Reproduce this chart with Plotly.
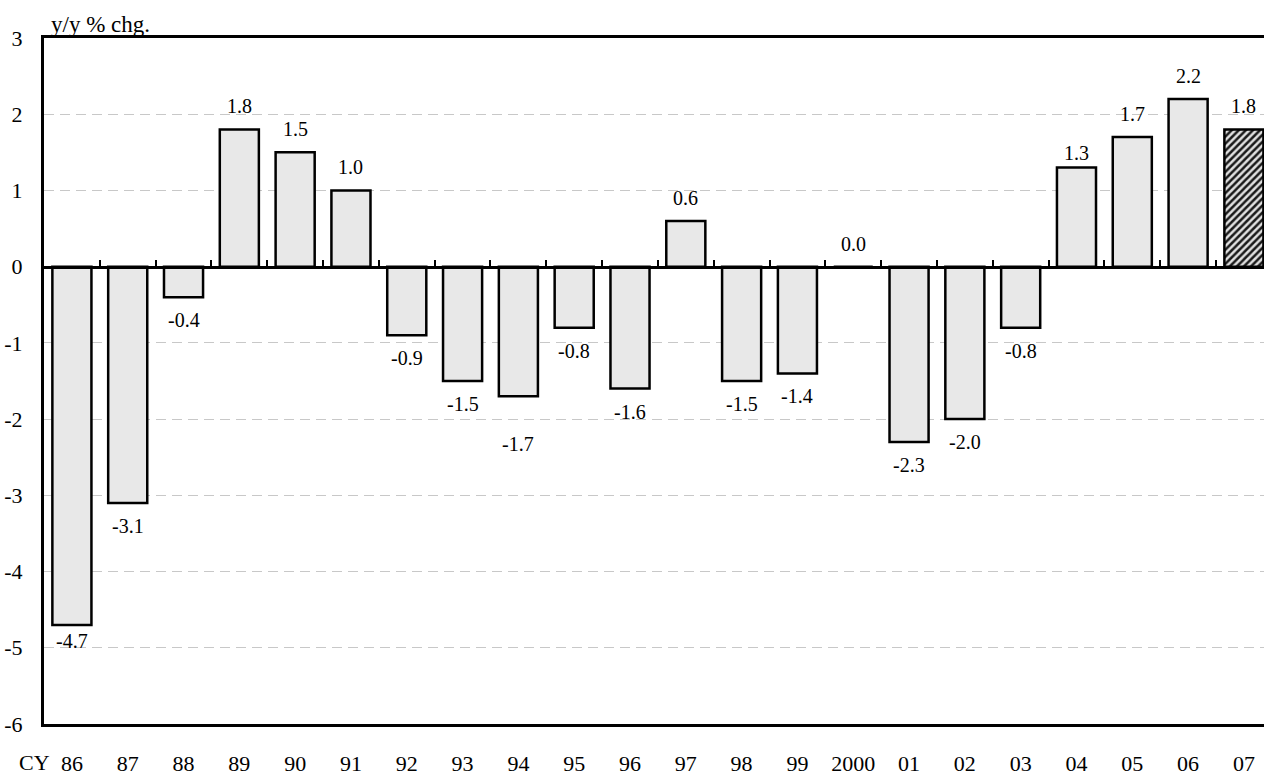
import plotly.graph_objects as go

# ---- data ----
years = ["86", "87", "88", "89", "90", "91", "92", "93", "94", "95", "96",
         "97", "98", "99", "2000", "01", "02", "03", "04", "05", "06", "07"]
values = [-4.7, -3.1, -0.4, 1.8, 1.5, 1.0, -0.9, -1.5, -1.7, -0.8, -1.6,
          0.6, -1.5, -1.4, 0.0, -2.3, -2.0, -0.8, 1.3, 1.7, 2.2, 1.8]
forecast = [False] * 21 + [True]
y_ticks = [-6, -5, -4, -3, -2, -1, 0, 1, 2, 3]
y_tick_text = ["-6", "-5", "-4", "-3", "-2", "-1", "0", "1", "2", "3"]
y_title = "y/y % chg."
x_prefix = "CY"

# ---- styling ----
FONT = "Liberation Serif"
label_offset = 23          # px between bar end and label centre
label_nudge = {"86": 7, "94": -25, "04": -8}   # px tweaks (positive = up)

xs = list(range(len(years)))

fig = go.Figure()
fig.add_trace(go.Bar(
    x=xs, y=values, width=0.7,
    marker=dict(
        color="#e8e8e8",
        line=dict(color="black", width=2.5),
        pattern=dict(shape=["/" if f else "" for f in forecast],
                     fgcolor="#1a1a1a", bgcolor="#e0e0e0",
                     size=5, solidity=0.5, fillmode="replace"),
    ),
    showlegend=False, hoverinfo="skip",
))
# invisible helper trace for the tick axis on the zero line
fig.add_trace(go.Scatter(x=xs, y=values, xaxis="x2", mode="markers",
                         marker=dict(opacity=0), showlegend=False,
                         hoverinfo="skip"))

annotations = []
for yr, i, v in zip(years, xs, values):
    shift = label_offset if v >= 0 else -label_offset
    shift += label_nudge.get(yr, 0)
    annotations.append(dict(
        x=i, y=v, xref="x", yref="y", text=f"{v:.1f}", showarrow=False,
        yshift=shift, yanchor="middle", xanchor="center",
        font=dict(family=FONT, size=20, color="black")))

annotations.append(dict(
    x=0.004, y=1.0, xref="paper", yref="paper", text=y_title,
    showarrow=False, xanchor="left", yanchor="bottom", yshift=-1,
    font=dict(family=FONT, size=23, color="black")))
annotations.append(dict(
    x=0.0066, y=0, xref="paper", yref="paper", text=x_prefix,
    showarrow=False, xanchor="right", yanchor="top", yshift=-24,
    font=dict(family=FONT, size=22, color="black")))

xr = [-0.5, 21.36]
fig.update_layout(
    width=1264, height=776,
    margin=dict(l=44, r=0, t=38, b=47),
    paper_bgcolor="white", plot_bgcolor="white",
    font=dict(family=FONT, size=22, color="black"),
    bargap=0.3,
    xaxis=dict(
        range=xr, tickmode="array", tickvals=xs, ticktext=years,
        showgrid=False, zeroline=False, ticks="", ticklabelstandoff=18,
        showline=True, linecolor="black", linewidth=3, mirror=True,
        tickfont=dict(family=FONT, size=22, color="black"),
    ),
    xaxis2=dict(
        range=xr, overlaying="x", anchor="free",
        position=(0 - y_ticks[0]) / (y_ticks[-1] - y_ticks[0]),
        tickmode="array", tickvals=[i + 0.5 for i in xs[:-1]],
        ticks="inside", ticklen=6, tickwidth=2, tickcolor="black",
        showticklabels=False, showgrid=False, zeroline=False,
        showline=True, linecolor="black", linewidth=3,
    ),
    yaxis=dict(
        range=[y_ticks[0], y_ticks[-1]], tickmode="array",
        tickvals=y_ticks, ticktext=y_tick_text,
        showgrid=True, gridcolor="#c8c8c8", gridwidth=1, griddash="10px,6px",
        zeroline=False, ticks="", ticklabelstandoff=14,
        showline=True, linecolor="black", linewidth=3,
        tickfont=dict(family=FONT, size=22, color="black"),
    ),
    annotations=annotations,
)

fig.write_html(
    "out.html",
    config={"displayModeBar": False},
    post_script="document.body.style.margin='0';"
                "document.body.style.overflow='hidden';",
)
